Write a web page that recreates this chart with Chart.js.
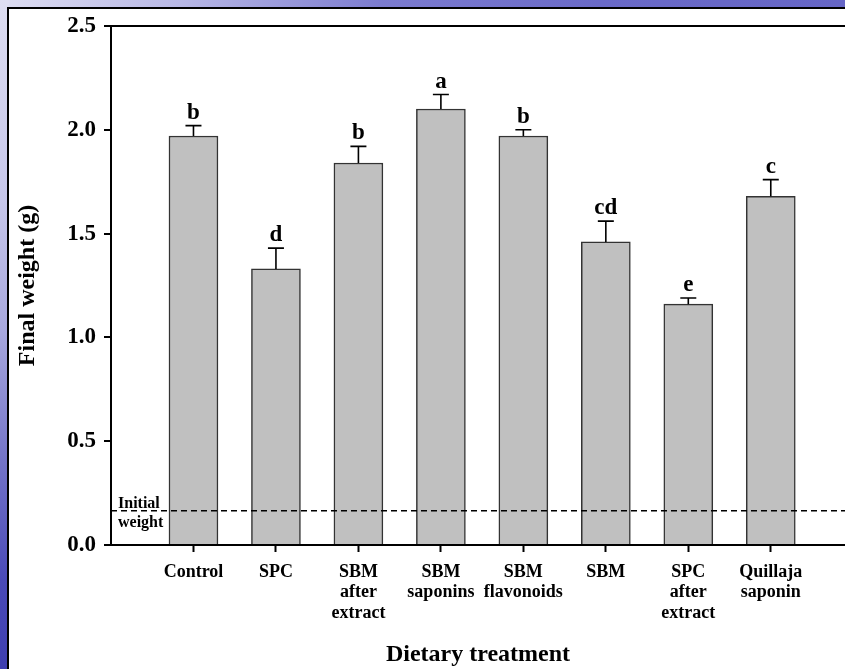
<!DOCTYPE html>
<html>
<head>
<meta charset="utf-8">
<script src="https://cdn.jsdelivr.net/npm/chart.js@4/dist/chart.umd.min.js"></script>
<style>
  html, body { margin: 0; padding: 0; width: 845px; height: 669px; overflow: hidden; background: #6a6ac8; }
  #bgTop {
    position: absolute; left: 0; top: 0; width: 845px; height: 9px;
    background: linear-gradient(to right, #dedef2 0px, #b8b8e6 180px, #7c7cd0 380px, #6a6ac8 600px, #6666c6 845px);
  }
  #bgLeft {
    position: absolute; left: 0; top: 0; width: 9px; height: 669px;
    background: linear-gradient(to bottom, #dedef2 0px, #c6c6ea 200px, #a8a8de 330px, #7474c8 460px, #4a4ab8 580px, #3e3eb0 669px);
  }
  #panel {
    position: absolute; left: 7px; top: 7px; right: 0; bottom: 0;
    background: #ffffff; border-left: 2px solid #000; border-top: 2px solid #000;
  }
  #chart { position: absolute; left: 0; top: 0; }
</style>
</head>
<body>
<div id="bgTop"></div>
<div id="bgLeft"></div>
<div id="panel"></div>
<canvas id="chart" width="845" height="669"></canvas>
<script>
// Final weight of fish fed the different dietary treatments (mean + SE)
const categories = ['Control', 'SPC', 'SBM after extract', 'SBM saponins', 'SBM flavonoids', 'SBM', 'SPC after extract', 'Quillaja saponin'];
const tickLabels = [['Control'], ['SPC'], ['SBM', 'after', 'extract'], ['SBM', 'saponins'], ['SBM', 'flavonoids'], ['SBM'], ['SPC', 'after', 'extract'], ['Quillaja', 'saponin']];
const finalWeight = [1.97, 1.33, 1.84, 2.10, 1.97, 1.46, 1.16, 1.68];
const errorSE = [0.05, 0.10, 0.08, 0.07, 0.03, 0.10, 0.03, 0.08];
const letters = ['b', 'd', 'b', 'a', 'b', 'cd', 'e', 'c'];
const initialWeight = 0.165;
const yTickValues = [0, 0.5, 1.0, 1.5, 2.0, 2.5];

const SERIF = '"Liberation Serif", "Times New Roman", serif';

// Error bars, significance letters and the initial-weight reference line
const annotate = {
  id: 'annotate',
  afterDatasetsDraw(chart) {
    const { ctx, chartArea, scales: { x, y } } = chart;
    ctx.save();
    ctx.strokeStyle = '#000';
    ctx.fillStyle = '#000';
    ctx.lineWidth = 1.6;
    ctx.font = 'bold 23px ' + SERIF;
    ctx.textAlign = 'center';
    ctx.textBaseline = 'alphabetic';
    finalWeight.forEach((v, i) => {
      const px = x.getPixelForValue(i + 1);
      const y0 = y.getPixelForValue(v);
      const y1 = y.getPixelForValue(v + errorSE[i]);
      ctx.beginPath();
      ctx.moveTo(px, y0);
      ctx.lineTo(px, y1);
      ctx.moveTo(px - 8, y1);
      ctx.lineTo(px + 8, y1);
      ctx.stroke();
      ctx.fillText(letters[i], px, y1 - 7);
    });

    const yi = y.getPixelForValue(initialWeight);
    ctx.beginPath();
    ctx.setLineDash([6, 4]);
    ctx.lineWidth = 1.6;
    ctx.moveTo(chartArea.left, yi);
    ctx.lineTo(chartArea.right, yi);
    ctx.stroke();
    ctx.setLineDash([]);

    ctx.font = 'bold 16px ' + SERIF;
    ctx.textAlign = 'left';
    ctx.fillText('Initial', chartArea.left + 7, yi - 3);
    ctx.fillText('weight', chartArea.left + 7, yi + 16);
    ctx.restore();
  }
};

new Chart(document.getElementById('chart'), {
  type: 'bar',
  data: {
    datasets: [{
      label: 'Final weight (g)',
      data: finalWeight.map((v, i) => ({ x: i + 1, y: v })),
      backgroundColor: '#c0c0c0',
      borderColor: '#333333',
      borderWidth: 1.5,
      barThickness: 49
    }]
  },
  options: {
    responsive: false,
    animation: false,
    devicePixelRatio: 1,
    layout: { padding: { top: 26, right: 0, bottom: 0, left: 0 } },
    plugins: {
      legend: { display: false },
      tooltip: { enabled: false }
    },
    scales: {
      x: {
        type: 'linear',
        min: 0,
        max: 8.9,
        offset: false,
        afterBuildTicks: (scale) => { scale.ticks = categories.map((_, i) => ({ value: i + 1 })); },
        afterFit: (scale) => { scale.height = 124; scale.paddingLeft = 0; scale.paddingRight = 0; },
        ticks: {
          autoSkip: false,
          maxRotation: 0,
          minRotation: 0,
          padding: 10,
          color: '#000',
          font: { family: SERIF, size: 18, weight: 'bold', lineHeight: 1.14 },
          callback: (value) => tickLabels[value - 1]
        },
        grid: {
          offset: false,
          drawOnChartArea: false,
          drawTicks: true,
          tickLength: 7,
          tickColor: '#000',
          tickWidth: 2
        },
        border: { display: true, color: '#000', width: 2 },
        title: {
          display: true,
          text: 'Dietary treatment',
          color: '#000',
          font: { family: SERIF, size: 24, weight: 'bold', lineHeight: 1.2 },
          padding: { top: 0, bottom: 0 }
        }
      },
      y: {
        min: 0,
        max: 2.5,
        afterBuildTicks: (scale) => { scale.ticks = yTickValues.map(v => ({ value: v })); },
        afterFit: (scale) => { scale.width = 111; },
        ticks: {
          padding: 8,
          color: '#000',
          font: { family: SERIF, size: 23, weight: 'bold' },
          callback: (value) => Number(value).toFixed(1)
        },
        grid: {
          drawOnChartArea: true,
          drawTicks: true,
          tickLength: 7,
          tickColor: '#000',
          tickWidth: 2,
          lineWidth: 2,
          color: (c) => (c.tick && c.tick.value === 2.5 ? '#000' : 'rgba(0,0,0,0)')
        },
        border: { display: true, color: '#000', width: 2 },
        title: {
          display: true,
          text: 'Final weight (g)',
          color: '#000',
          font: { family: SERIF, size: 24, weight: 'bold', lineHeight: 1.2 },
          padding: { top: 13, bottom: 0 }
        }
      }
    }
  },
  plugins: [annotate]
});
</script>
</body>
</html>
